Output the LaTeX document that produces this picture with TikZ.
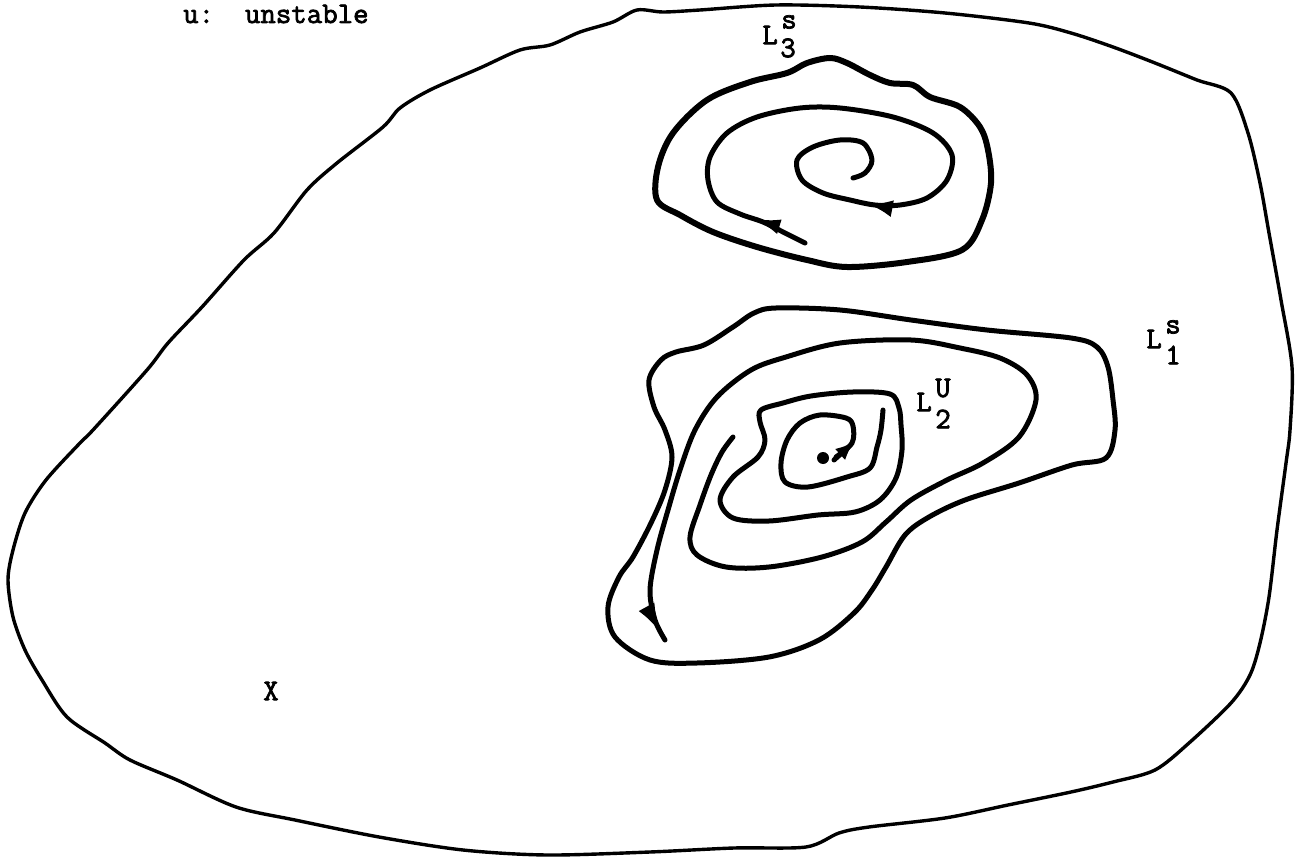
\documentclass[tikz,border=0pt]{standalone}
\usepackage{fontspec}
\newfontfamily\twfont{Latin Modern Mono}[FakeBold=2.5]
\usetikzlibrary{arrows.meta,decorations.markings}
\begin{document}
\begin{tikzpicture}[x=1pt,y=-1pt,line cap=round,line join=round,
  bound/.style={line width=3.4pt},
  orbit/.style={line width=5pt},
  thickorbit/.style={line width=6pt},
  lbl/.style={font=\twfont\fontsize{30}{30}\selectfont,inner sep=0pt}
]
\useasboundingbox (0,0) rectangle (1306,858);

% outer boundary
\draw[bound] plot[smooth cycle,tension=0.5] coordinates {
(637,10) (663,12) (700,10) (776,5) (860,7) (945,13) (1029,23) (1071,33) (1113,47)
(1155,63) (1197,80) (1231,93) (1248,133) (1260,183) (1269,233) (1281,300) (1292,367)
(1290,430) (1286,463) (1277,530) (1269,597) (1260,643) (1250,675) (1231,703) (1189,743)
(1155,770) (1113,782) (1071,792) (1008,805) (945,818) (869,827) (839,833) (806,847)
(734,848) (650,852) (547,855) (463,850) (379,837) (295,820) (236,807) (177,780)
(130,760) (105,743) (67,717) (42,680) (25,650) (13,617) (8,580) (13,550) (25,513)
(46,480) (80,443) (93,430) (147,370) (168,343) (202,307) (244,260) (274,233) (307,190)
(337,163) (383,127) (400,108) (430,90) (480,68) (520,50) (550,45) (580,32) (613,22)};

% L3 outer closed orbit
\draw[thickorbit] plot[smooth cycle,tension=0.55] coordinates {
(657,200) (658,167) (673,133) (707,100) (750,82) (787,73) (807,63) (830,58) (847,63)
(870,75) (890,83) (913,85) (930,97) (960,107) (980,127) (988,150) (991,183) (982,220)
(962,250) (907,262) (847,267) (807,260) (757,247) (713,232) (680,215)};

% L3 inner spiral
\draw[orbit,postaction={decorate},decoration={markings,
  mark=at position 58pt with {\arrow{Latex[length=28pt,width=15pt]}},
  mark=at position 534pt with {\arrow{Latex[length=26pt,width=17pt]}}}]
 plot[smooth,tension=0.55] coordinates {
(805,243) (785,233) (763,222) (740,214) (717,202) (708,180) (710,157) (727,133)
(757,117) (800,108) (840,108) (893,117) (933,133) (952,155) (947,180) (927,198)
(900,205) (875,205) (850,200) (823,193) (802,180) (797,160) (813,147) (840,140)
(863,143) (872,160) (865,173) (853,178)};

% L1 outer closed orbit
\draw[orbit] plot[smooth cycle,tension=0.55] coordinates {
(776,308) (840,310) (911,320) (987,330) (1071,338) (1097,347) (1108,367) (1113,400)
(1115,430) (1106,458) (1072,465) (1019,483) (965,500) (929,517) (905,535) (886,567)
(872,590) (854,613) (819,640) (769,657) (697,663) (650,660) (615,637) (608,607)
(619,577) (633,557) (651,523) (665,490) (672,457) (665,430) (654,407) (649,380)
(661,360) (676,352) (704,345) (733,327) (754,313)};

% outward spiral with arrow near its end
\draw[orbit,postaction={decorate},decoration={markings,
  mark=at position -8pt with {\arrow{Latex[length=30pt,width=18pt]}}}]
 plot[smooth,tension=0.55] coordinates {
(733,437) (722,452) (711,475) (700,505) (690,537) (697,555) (726,567) (769,567)
(822,557) (862,542) (886,522) (911,500) (947,480) (983,463) (1019,437) (1036,400)
(1027,375) (1000,358) (960,348) (911,340) (840,343) (786,357) (751,370) (717,397)
(695,430) (680,470) (668,510) (657,550) (650,590) (655,620) (665,640)};

% S-shaped closed loop
\draw[orbit] plot[smooth cycle,tension=0.55] coordinates {
(761,410) (783,403) (811,396) (853,392) (890,394) (899,408) (901,425) (902,450)
(896,478) (880,500) (855,512) (818,515) (769,521) (733,518) (720,500) (733,477)
(758,457) (765,440) (760,422)};

% inner spiral from the unstable point
\draw[orbit] plot[smooth,tension=0.55] coordinates {
(836,457) (852,443) (853,426) (846,418) (820,415) (800,423) (787,440) (781,463)
(785,482) (808,487) (847,477) (870,468) (877,447) (881,430) (883,410)};
\coordinate (a0) at (834,460);
\coordinate (a1) at (855,441);
\draw[orbit,-{Latex[length=20pt,width=15pt]}] (a0) -- (a1);

\fill (823,458) circle (6pt);

% labels
\node[lbl] (u) [anchor=base west] at (183,23) {u:\ \ unstable};
\node[lbl] (l3) at (770,35) {L};
\node[lbl] (l3s) at (789,22) {s};
\node[lbl] (l3n) at (788,48) {3};
\node[lbl] (l2) at (924,402) {L};
\node[lbl] (l2u) at (943,388) {U};
\node[lbl] (l2n) at (943,419) {2};
\node[lbl] (l1) at (1154,339) {L};
\node[lbl] (l1s) at (1173,327) {s};
\node[lbl] (l1n) at (1173,355) {1};
\node[lbl] (x) at (271,691) {X};
\end{tikzpicture}
\end{document}
